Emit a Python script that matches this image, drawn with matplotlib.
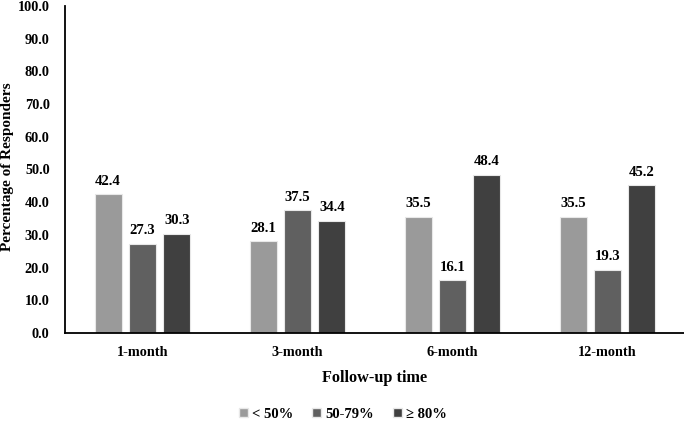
import numpy as np
import matplotlib
matplotlib.use("Agg")
import matplotlib.pyplot as plt
from matplotlib.patches import Patch

categories = ["1-month", "3-month", "6-month", "12-month"]
series_names = ["< 50%", "50-79%", "\u2265 80%"]
below_50 = [42.4, 28.1, 35.5, 35.5]
mid_50_79 = [27.3, 37.5, 16.1, 19.3]
above_80 = [30.3, 34.4, 48.4, 45.2]
yticks = np.arange(0, 101, 10)

plt.rcParams["font.family"] = ["Liberation Serif", "DejaVu Serif"]
plt.rcParams["font.weight"] = "bold"

colors = ["#9a9a9a", "#606060", "#404040"]
fig = plt.figure(figsize=(6.84, 4.22), dpi=100)
ax = fig.add_axes([65 / 684, 89 / 422, 620 / 684, 327 / 422])

x = np.arange(len(categories))
w = 0.175
off = 0.222
for i, (vals, col, name) in enumerate(zip((below_50, mid_50_79, above_80), colors, series_names)):
    xs = x + (i - 1) * off
    ax.bar(xs, vals, width=w, color=col, edgecolor="#e8e8e8", linewidth=0.8, label=name)
    for xx, v in zip(xs, vals):
        ax.text(xx, v + 2.0, f"{v:.1f}", ha="center", va="bottom",
                fontsize=10.6, fontweight="bold")

ax.set_xlim(-0.5, 3.5)
ax.set_ylim(0, 100)
ax.set_yticks(yticks)
ax.set_yticklabels([f"{t:.1f}" for t in yticks], fontsize=10.3, fontweight="bold")
ax.set_xticks(x)
ax.set_xticklabels(categories, fontsize=10.3, fontweight="bold")
ax.tick_params(length=0)
ax.tick_params(axis="x", pad=9)
ax.tick_params(axis="y", pad=11)
for s in ("top", "right"):
    ax.spines[s].set_visible(False)
for s in ("left", "bottom"):
    ax.spines[s].set_linewidth(1.3)
ax.set_ylabel("Percentage of Responders", fontsize=11, fontweight="bold")
ax.yaxis.set_label_coords(-0.083, 0.51)
ax.set_xlabel("Follow-up time", fontsize=11.7, fontweight="bold", labelpad=8)

handles = [Patch(facecolor=c, edgecolor="#e8e8e8") for c in colors]
fig.legend(handles, series_names, loc="center", bbox_to_anchor=(343 / 684, 1 - 414 / 422),
           ncol=3, frameon=False, fontsize=10.5, handlelength=0.6, handleheight=0.6,
           handletextpad=0.3, columnspacing=1.3)

fig.savefig("out.png", dpi=100)
